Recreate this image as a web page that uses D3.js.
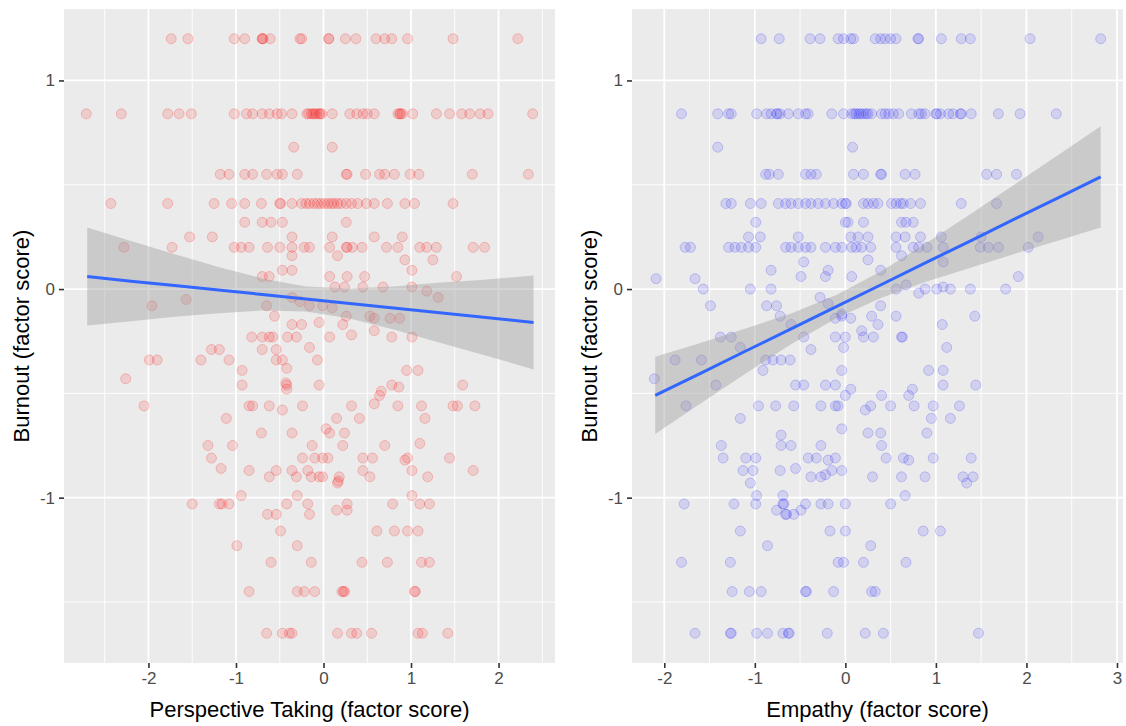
<!DOCTYPE html>
<html>
<head>
<meta charset="utf-8">
<script src="https://cdn.jsdelivr.net/npm/d3@7"></script>
<style>
  body { margin: 0; background: #fff; }
  svg { display: block; font-family: "Liberation Sans", Arial, sans-serif; }
</style>
</head>
<body>
<svg id="chart"></svg>
<script>
// points: [factor score, burnout]
const perspectivePoints = [
  [-1.74,1.2],[-1.55,1.2],[-1.02,1.2],[-0.90,1.2],[-0.70,1.2],[-0.70,1.2],[-0.69,1.2],[-0.61,1.2],[-0.27,1.2],[-0.25,1.2],
  [0.06,1.2],[0.06,1.2],[0.25,1.2],[0.37,1.2],[0.60,1.2],[0.70,1.2],[0.78,1.2],[0.96,1.2],[1.48,1.2],[2.22,1.2],
  [-2.71,0.84],[-2.31,0.84],[-1.78,0.84],[-1.65,0.84],[-1.51,0.84],[-1.02,0.84],[-0.88,0.84],[-0.81,0.84],[-0.70,0.84],[-0.62,0.84],
  [-0.53,0.84],[-0.48,0.84],[-0.36,0.84],[-0.19,0.84],[-0.17,0.84],[-0.14,0.84],[-0.12,0.84],[-0.10,0.84],[-0.08,0.84],[-0.05,0.84],
  [-0.04,0.84],[-0.02,0.84],[0.10,0.84],[0.30,0.84],[0.38,0.84],[0.45,0.84],[0.50,0.84],[0.58,0.84],[0.85,0.84],[0.87,0.84],
  [0.88,0.84],[0.90,0.84],[1.02,0.84],[1.29,0.84],[1.44,0.84],[1.58,0.84],[1.67,0.84],[1.79,0.84],[1.88,0.84],[2.39,0.84],
  [-0.34,0.68],[0.10,0.68],
  [-1.18,0.55],[-1.08,0.55],[-0.90,0.55],[-0.81,0.55],[-0.65,0.55],[-0.53,0.55],[-0.47,0.55],[-0.30,0.55],[0.26,0.55],[0.27,0.55],
  [0.48,0.55],[0.64,0.55],[0.70,0.55],[0.81,0.55],[0.99,0.55],[1.09,0.55],[1.70,0.55],[2.34,0.55],
  [-2.43,0.41],[-1.78,0.41],[-1.25,0.41],[-1.05,0.41],[-0.90,0.41],[-0.71,0.41],[-0.50,0.41],[-0.49,0.41],[-0.36,0.41],[-0.25,0.41],
  [-0.20,0.41],[-0.16,0.41],[-0.11,0.41],[-0.07,0.41],[-0.03,0.41],[0.01,0.41],[0.05,0.41],[0.09,0.41],[0.12,0.41],[0.16,0.41],
  [0.20,0.41],[0.26,0.41],[0.32,0.41],[0.39,0.41],[0.49,0.41],[0.58,0.41],[0.73,0.41],[0.93,0.41],[1.04,0.41],[1.48,0.41],
  [-0.90,0.32],[-0.70,0.32],[-0.60,0.32],[-0.47,0.32],[0.26,0.32],
  [-1.53,0.25],[-1.27,0.25],[-0.36,0.25],[0.10,0.25],[0.58,0.25],[0.90,0.25],
  [-2.28,0.2],[-1.73,0.2],[-1.02,0.2],[-0.94,0.2],[-0.85,0.2],[-0.64,0.2],[-0.50,0.2],[-0.36,0.2],[-0.22,0.2],[-0.16,0.2],
  [0.07,0.2],[0.26,0.2],[0.27,0.2],[0.33,0.2],[0.44,0.2],[0.72,0.2],[0.85,0.2],[1.10,0.2],[1.18,0.2],[1.29,0.2],[1.71,0.2],[1.84,0.2],
  [-0.36,0.16],[0.16,0.16],[0.93,0.14],[1.25,0.14],[-0.47,0.09],[-0.36,0.09],[1.01,0.09],
  [-0.70,0.06],[-0.62,0.06],[0.07,0.06],[0.27,0.06],[0.47,0.06],[1.52,0.06],
  [0.13,0.01],[0.24,0.01],[0.45,0.01],[0.68,0.01],[1.01,0.01],[1.18,-0.01],
  [-1.57,-0.05],[-1.96,-0.08],[-0.65,-0.08],[-0.36,-0.04],[1.31,-0.04],[-0.56,-0.13],[-0.36,-0.17],
  [-0.27,-0.06],[-0.16,-0.08],[-0.01,-0.08],[0.10,-0.09],[0.26,-0.13],[0.53,-0.13],[0.76,-0.14],[0.87,-0.14],
  [-0.25,-0.17],[-0.05,-0.16],[0.22,-0.17],[0.58,-0.14],
  [-0.82,-0.23],[-0.70,-0.23],[-0.62,-0.23],[-0.58,-0.23],[-0.41,-0.23],[-0.31,-0.23],[0.07,-0.23],[0.32,-0.22],[0.58,-0.20],[0.78,-0.23],[1.01,-0.23],
  [-1.28,-0.29],[-1.19,-0.29],[-0.70,-0.29],[-0.54,-0.29],[-0.16,-0.28],
  [-1.99,-0.34],[-1.90,-0.34],[-1.40,-0.34],[-1.08,-0.34],[-0.54,-0.34],[-0.47,-0.34],[-0.07,-0.34],
  [-0.42,-0.38],[-0.93,-0.39],[0.95,-0.39],[1.08,-0.39],[-2.26,-0.43],
  [-0.93,-0.46],[-0.42,-0.46],[-0.43,-0.45],[-0.05,-0.46],[0.78,-0.46],[1.59,-0.46],[-0.42,-0.48],[0.86,-0.47],
  [0.66,-0.49],[0.64,-0.51],[0.58,-0.55],
  [-2.05,-0.56],[-0.85,-0.56],[-0.81,-0.56],[-0.62,-0.56],[-0.47,-0.58],[-0.24,-0.56],[0.32,-0.56],[0.85,-0.56],[1.12,-0.56],[1.48,-0.56],[1.53,-0.56],[1.73,-0.56],
  [-1.11,-0.62],[0.15,-0.62],[0.41,-0.62],[1.16,-0.62],
  [-0.71,-0.69],[-0.36,-0.69],[0.03,-0.67],[0.07,-0.69],[0.24,-0.69],[1.10,-0.74],
  [-1.32,-0.75],[-1.04,-0.75],[-0.13,-0.75],[0.22,-0.75],[0.70,-0.75],
  [-1.28,-0.81],[-0.24,-0.81],[-0.10,-0.81],[-0.01,-0.81],[0.05,-0.81],[0.45,-0.81],[0.56,-0.81],[0.93,-0.82],[0.96,-0.81],[1.44,-0.81],
  [-1.17,-0.86],[-0.85,-0.87],[-0.54,-0.87],[-0.36,-0.87],[-0.18,-0.87],[0.45,-0.87],[1.01,-0.87],[1.71,-0.87],
  [-0.62,-0.90],[-0.31,-0.90],[-0.14,-0.90],[-0.05,-0.90],[-0.01,-0.90],[0.18,-0.90],[0.53,-0.90],[1.19,-0.90],
  [0.16,-0.93],[0.17,-0.92],[-0.94,-0.99],[-0.30,-0.99],[1.01,-0.99],
  [-1.50,-1.03],[-1.19,-1.03],[-1.16,-1.03],[-1.08,-1.03],[-0.42,-1.03],[-0.18,-1.03],[0.27,-1.03],[0.79,-1.03],[1.10,-1.03],[1.21,-1.03],
  [-0.64,-1.08],[-0.54,-1.08],[-0.16,-1.08],[0.15,-1.06],[0.27,-1.06],
  [-0.49,-1.16],[0.61,-1.16],[0.81,-1.16],[0.96,-1.16],[1.08,-1.16],[-0.99,-1.23],[-0.30,-1.23],
  [-0.60,-1.31],[-0.14,-1.31],[0.44,-1.31],[0.73,-1.31],[1.12,-1.31],[1.21,-1.31],
  [-0.85,-1.45],[-0.30,-1.45],[-0.22,-1.45],[-0.10,-1.45],[0.21,-1.45],[0.23,-1.45],[0.24,-1.45],[1.04,-1.45],[1.05,-1.45],
  [-0.65,-1.65],[-0.47,-1.65],[-0.39,-1.65],[-0.36,-1.65],[0.16,-1.65],[0.32,-1.65],[0.38,-1.65],[0.55,-1.65],[1.08,-1.65],[1.13,-1.65],[1.42,-1.65]
];

const empathyPoints = [
  [-0.93,1.2],[-0.73,1.2],[-0.39,1.2],[-0.28,1.2],[-0.08,1.2],[-0.02,1.2],[0.06,1.2],[0.09,1.2],[0.33,1.2],[0.39,1.2],
  [0.44,1.2],[0.50,1.2],[0.56,1.2],[0.80,1.2],[0.81,1.2],[1.06,1.2],[1.28,1.2],[1.38,1.2],[2.04,1.2],[2.82,1.2],
  [-1.81,0.84],[-1.41,0.84],[-1.29,0.84],[-1.26,0.84],[-0.98,0.84],[-0.87,0.84],[-0.82,0.84],[-0.76,0.84],[-0.75,0.84],[-0.72,0.84],
  [-0.63,0.84],[-0.52,0.84],[-0.44,0.84],[-0.41,0.84],[-0.15,0.84],[-0.02,0.84],[0.07,0.84],[0.10,0.84],[0.12,0.84],[0.15,0.84],
  [0.17,0.84],[0.20,0.84],[0.23,0.84],[0.25,0.84],[0.29,0.84],[0.40,0.84],[0.44,0.84],[0.48,0.84],[0.53,0.84],[0.59,0.84],
  [0.73,0.84],[0.81,0.84],[0.84,0.84],[0.88,0.84],[1.00,0.84],[1.01,0.84],[1.05,0.84],[1.14,0.84],[1.19,0.84],[1.27,0.84],
  [1.28,0.84],[1.39,0.84],[1.69,0.84],[1.93,0.84],[2.33,0.84],
  [-1.41,0.68],[0.08,0.68],
  [-0.88,0.55],[-0.84,0.55],[-0.74,0.55],[-0.44,0.55],[-0.38,0.55],[-0.32,0.55],[0.09,0.55],[0.20,0.55],[0.39,0.55],[0.40,0.55],
  [0.66,0.55],[0.77,0.55],[1.56,0.55],[1.67,0.55],[1.89,0.55],
  [-1.32,0.41],[-1.26,0.41],[-1.05,0.41],[-0.93,0.41],[-0.74,0.41],[-0.66,0.41],[-0.60,0.41],[-0.52,0.41],[-0.44,0.41],[-0.38,0.41],
  [-0.30,0.41],[-0.22,0.41],[-0.13,0.41],[-0.04,0.41],[0.00,0.41],[0.01,0.41],[0.20,0.41],[0.25,0.41],[0.31,0.41],[0.36,0.41],
  [0.51,0.41],[0.56,0.41],[0.61,0.41],[0.64,0.41],[0.72,0.41],[0.83,0.41],[1.28,0.41],[1.67,0.41],
  [-0.99,0.32],[0.00,0.32],[0.03,0.32],[0.20,0.32],[0.62,0.32],[0.67,0.32],[0.75,0.32],
  [-1.07,0.25],[-0.94,0.25],[-0.52,0.25],[0.06,0.25],[0.14,0.25],[0.25,0.25],[0.56,0.25],[0.66,0.25],[0.83,0.25],[1.06,0.25],[1.50,0.25],[2.13,0.25],
  [-1.77,0.2],[-1.71,0.2],[-1.29,0.2],[-1.22,0.2],[-1.15,0.2],[-1.07,0.2],[-0.99,0.2],[-0.66,0.2],[-0.60,0.2],[-0.52,0.2],
  [-0.44,0.2],[-0.38,0.2],[-0.22,0.2],[-0.11,0.2],[-0.04,0.2],[0.07,0.2],[0.12,0.2],[0.18,0.2],[0.28,0.2],[0.56,0.2],
  [0.75,0.2],[0.81,0.2],[0.90,0.2],[1.08,0.2],[1.49,0.2],[1.58,0.2],[1.69,0.2],[2.02,0.2],
  [-0.46,0.13],[0.25,0.14],[0.62,0.16],[1.08,0.13],[-0.82,0.09],[-0.19,0.09],[0.39,0.09],
  [-0.49,0.06],[-0.22,0.06],[-2.09,0.05],[-1.66,0.05],[0.07,0.06],[1.91,0.06],[0.67,0.02],
  [-1.57,0.00],[-1.05,0.00],[-0.82,0.00],[0.56,0.00],[0.88,0.00],[1.01,0.00],[1.08,0.01],[1.16,0.00],[1.38,0.00],[1.77,0.00],
  [0.81,-0.02],[-0.28,-0.04],[-0.19,-0.07],[-1.49,-0.08],[-0.87,-0.08],[-0.76,-0.08],[0.39,-0.08],
  [-0.04,-0.12],[-0.72,-0.13],[-0.11,-0.14],[-0.04,-0.13],[0.06,-0.14],[0.29,-0.13],[0.36,-0.17],[0.56,-0.13],[1.07,-0.17],[1.43,-0.13],
  [-0.60,-0.17],
  [-1.38,-0.23],[-1.26,-0.23],[-0.46,-0.23],[-0.11,-0.23],[0.00,-0.23],[0.18,-0.20],[0.20,-0.23],[0.31,-0.23],[0.62,-0.23],[0.63,-0.23],
  [-1.16,-0.28],[-0.38,-0.29],[-0.02,-0.28],[1.12,-0.28],
  [-1.88,-0.34],[-1.59,-0.34],[-0.88,-0.34],[-0.80,-0.34],[-0.71,-0.34],[-0.61,-0.34],
  [-0.04,-0.39],[-0.91,-0.39],[0.92,-0.39],[1.08,-0.39],[-2.11,-0.43],
  [-1.43,-0.46],[-0.55,-0.46],[-0.46,-0.46],[-0.22,-0.46],[-0.11,-0.46],[1.08,-0.46],[1.44,-0.46],
  [0.06,-0.48],[0.00,-0.51],[0.40,-0.51],[0.70,-0.51],[0.74,-0.48],
  [-1.76,-0.56],[-0.96,-0.56],[-0.77,-0.56],[-0.57,-0.56],[-0.27,-0.56],[-0.11,-0.56],[-0.08,-0.56],[0.28,-0.56],[0.50,-0.56],[0.76,-0.56],[0.97,-0.56],[1.26,-0.56],
  [0.22,-0.58],[-1.16,-0.62],[0.95,-0.62],[1.16,-0.62],
  [-0.04,-0.67],[-0.71,-0.70],[0.25,-0.69],[0.39,-0.69],[0.90,-0.69],
  [-1.37,-0.75],[-0.71,-0.75],[-0.60,-0.75],[-0.27,-0.75],[0.40,-0.75],
  [-1.35,-0.81],[-1.10,-0.81],[-0.99,-0.81],[-0.41,-0.81],[-0.32,-0.81],[-0.19,-0.82],[-0.11,-0.81],[0.45,-0.81],[0.64,-0.81],[0.70,-0.82],[0.97,-0.81],[1.39,-0.81],
  [-1.13,-0.87],[-1.02,-0.87],[-0.72,-0.87],[-0.55,-0.86],[-0.15,-0.87],[-0.04,-0.87],
  [-0.38,-0.90],[-0.27,-0.90],[-0.22,-0.89],[0.30,-0.90],[0.62,-0.90],[0.88,-0.90],[1.30,-0.90],[1.41,-0.90],
  [-1.05,-0.93],[1.34,-0.93],[-0.98,-0.99],[-0.69,-0.99],[0.66,-0.99],
  [-1.78,-1.03],[-1.23,-1.03],[-0.99,-1.03],[-0.69,-1.03],[-0.68,-1.03],[-0.44,-1.03],[-0.27,-1.03],[-0.19,-1.03],[0.00,-1.03],[0.50,-1.03],
  [-0.76,-1.06],[-0.66,-1.08],[-0.65,-1.08],[-0.57,-1.08],[-0.49,-1.06],
  [-1.16,-1.16],[-0.17,-1.16],[0.00,-1.16],[0.86,-1.16],[1.05,-1.16],[-0.86,-1.23],[0.28,-1.23],
  [-1.81,-1.31],[-1.27,-1.31],[-0.08,-1.31],[-0.02,-1.31],[0.20,-1.31],[0.67,-1.31],
  [-1.25,-1.45],[-1.06,-1.45],[-0.93,-1.45],[-0.44,-1.45],[-0.43,-1.45],[-0.13,-1.45],[0.29,-1.45],[0.33,-1.45],
  [-1.66,-1.65],[-1.27,-1.65],[-1.26,-1.65],[-0.98,-1.65],[-0.86,-1.65],[-0.69,-1.65],[-0.63,-1.65],[-0.62,-1.65],[-0.20,-1.65],[0.22,-1.65],[0.42,-1.65],[1.47,-1.65]
];

// lm fit and 95% band
const ptFitX  = [-2.7, -2.2, -1.7, -1.2, -0.7, -0.2, 0.3, 0.8, 1.3, 1.8, 2.4];
const ptFit   = [0.060, 0.038, 0.017, -0.005, -0.026, -0.048, -0.069, -0.091, -0.112, -0.134, -0.160];
const ptLower = [-0.175, -0.154, -0.133, -0.116, -0.103, -0.108, -0.141, -0.194, -0.254, -0.312, -0.385];
const ptUpper = [0.295, 0.230, 0.167, 0.106, 0.051, 0.012, 0.003, 0.012, 0.030, 0.044, 0.065];

const empFitX  = [-2.1, -1.6, -1.1, -0.6, -0.1, 0.4, 0.9, 1.4, 1.9, 2.4, 2.82];
const empFit   = [-0.510, -0.404, -0.297, -0.191, -0.084, 0.022, 0.129, 0.235, 0.342, 0.448, 0.538];
const empLower = [-0.695, -0.549, -0.405, -0.265, -0.140, -0.042, 0.036, 0.105, 0.173, 0.239, 0.295];
const empUpper = [-0.325, -0.259, -0.189, -0.117, -0.028, 0.086, 0.222, 0.365, 0.511, 0.657, 0.781];

const yTicks = [-1, 0, 1];
const ptXTicks = [-2, -1, 0, 1, 2];
const empXTicks = [-2, -1, 0, 1, 2, 3];

const WIDTH = 1126;
const HEIGHT = 726;
const PLOT_TOP = 9;
const PLOT_BOTTOM = 663;

const svg = d3.select('#chart')
    .attr('width', WIDTH)
    .attr('height', HEIGHT);

svg.append('rect').attr('width', WIDTH).attr('height', HEIGHT).attr('fill', '#fff');

// ggplot's default 5% expansion
function expanded(values) {
    const [lo, hi] = d3.extent(values);
    const pad = (hi - lo) * 0.05;
    return [lo - pad, hi + pad];
}

const allY = perspectivePoints.concat(empathyPoints).map(d => d[1]);
const y = d3.scaleLinear().domain(expanded(allY)).range([PLOT_BOTTOM, PLOT_TOP]);

function drawPanel(opts) {
    const x = d3.scaleLinear()
        .domain(expanded(opts.points.map(d => d[0])))
        .range([opts.left, opts.right]);

    const g = svg.append('g');

    g.append('rect')
        .attr('x', opts.left)
        .attr('y', PLOT_TOP)
        .attr('width', opts.right - opts.left)
        .attr('height', PLOT_BOTTOM - PLOT_TOP)
        .attr('fill', '#EBEBEB');

    // minor grid halfway between majors
    const xDom = x.domain();
    const yDom = y.domain();
    const xMinor = d3.range(Math.floor(xDom[0]) - 0.5, xDom[1], 1).filter(v => v > xDom[0] && v < xDom[1]);
    const yMinor = d3.range(Math.floor(yDom[0]) - 0.5, yDom[1], 1).filter(v => v > yDom[0] && v < yDom[1]);

    g.selectAll('.vminor').data(xMinor).enter().append('line')
        .attr('x1', d => x(d)).attr('x2', d => x(d))
        .attr('y1', PLOT_TOP).attr('y2', PLOT_BOTTOM)
        .attr('stroke', '#fff').attr('stroke-width', 0.9);
    g.selectAll('.hminor').data(yMinor).enter().append('line')
        .attr('x1', opts.left).attr('x2', opts.right)
        .attr('y1', d => y(d)).attr('y2', d => y(d))
        .attr('stroke', '#fff').attr('stroke-width', 0.9);
    g.selectAll('.vmajor').data(opts.xTicks).enter().append('line')
        .attr('x1', d => x(d)).attr('x2', d => x(d))
        .attr('y1', PLOT_TOP).attr('y2', PLOT_BOTTOM)
        .attr('stroke', '#fff').attr('stroke-width', 1.8);
    g.selectAll('.hmajor').data(yTicks).enter().append('line')
        .attr('x1', opts.left).attr('x2', opts.right)
        .attr('y1', d => y(d)).attr('y2', d => y(d))
        .attr('stroke', '#fff').attr('stroke-width', 1.8);

    g.selectAll('.pt').data(opts.points).enter().append('circle')
        .attr('cx', d => x(d[0]))
        .attr('cy', d => y(d[1]))
        .attr('r', 5)
        .attr('fill', opts.color)
        .attr('fill-opacity', opts.alpha)
        .attr('stroke', opts.color)
        .attr('stroke-opacity', opts.alpha + 0.07)
        .attr('stroke-width', 1);

    const fitRows = opts.fitX.map((v, i) => ({x: v, fit: opts.fit[i], lo: opts.lower[i], hi: opts.upper[i]}));

    g.append('path')
        .datum(fitRows)
        .attr('d', d3.area().x(d => x(d.x)).y0(d => y(d.lo)).y1(d => y(d.hi)))
        .attr('fill', '#999999')
        .attr('fill-opacity', 0.4);

    g.append('path')
        .datum(fitRows)
        .attr('d', d3.line().x(d => x(d.x)).y(d => y(d.fit)))
        .attr('fill', 'none')
        .attr('stroke', '#3366FF')
        .attr('stroke-width', 3);

    const xAxis = g.append('g')
        .attr('transform', `translate(0, ${PLOT_BOTTOM})`)
        .call(d3.axisBottom(x).tickValues(opts.xTicks).tickFormat(d => String(d)).tickSize(5).tickPadding(4));
    const yAxis = g.append('g')
        .attr('transform', `translate(${opts.left}, 0)`)
        .call(d3.axisLeft(y).tickValues(yTicks).tickFormat(d => String(d)).tickSize(5).tickPadding(4));

    [xAxis, yAxis].forEach(ax => {
        ax.select('.domain').remove();
        ax.selectAll('line').attr('stroke', '#333333').attr('stroke-width', 1.6);
        ax.selectAll('text')
            .attr('fill', '#4D4D4D')
            .style('font-size', '17px')
            .style('font-family', '"Liberation Sans", Arial, sans-serif');
    });

    g.append('text')
        .attr('x', (opts.left + opts.right) / 2)
        .attr('y', 717)
        .attr('text-anchor', 'middle')
        .style('font-size', '22px')
        .attr('fill', '#000')
        .text(opts.xTitle);

    g.append('text')
        .attr('transform', `translate(${opts.yTitleX}, ${(PLOT_TOP + PLOT_BOTTOM) / 2}) rotate(-90)`)
        .attr('text-anchor', 'middle')
        .style('font-size', '22px')
        .attr('fill', '#000')
        .text('Burnout (factor score)');
}

drawPanel({
    points: perspectivePoints, color: 'red', alpha: 0.13,
    fitX: ptFitX, fit: ptFit, lower: ptLower, upper: ptUpper,
    xTicks: ptXTicks, left: 64, right: 555, yTitleX: 29,
    xTitle: 'Perspective Taking (factor score)'
});

drawPanel({
    points: empathyPoints, color: 'blue', alpha: 0.11,
    fitX: empFitX, fit: empFit, lower: empLower, upper: empUpper,
    xTicks: empXTicks, left: 632, right: 1123, yTitleX: 597,
    xTitle: 'Empathy (factor score)'
});
</script>
</body>
</html>
